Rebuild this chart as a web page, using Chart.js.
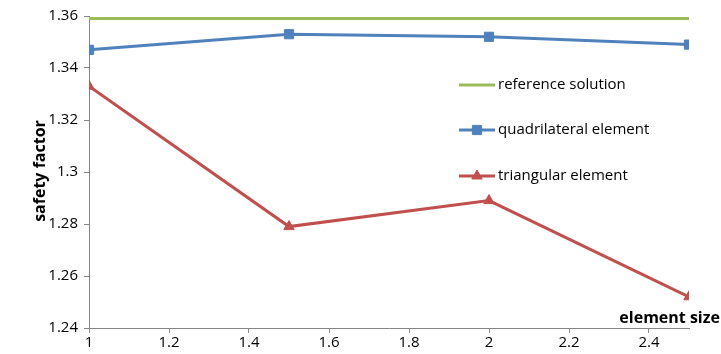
<!DOCTYPE html>
<html lang="en">
<head>
    <meta charset="UTF-8">
    <title>safety factor vs element size</title>
    <style>
        html, body { margin: 0; padding: 0; background: #ffffff; }
        canvas { display: block; }
    </style>
</head>
<body>
    <canvas id="myChart" width="721" height="354"></canvas>

    <script src="https://cdn.jsdelivr.net/npm/chart.js"></script>
    <script>
        // data
        const elementSize = [1, 1.5, 2, 2.5];
        const referenceSolution = [1.359, 1.359, 1.359, 1.359];
        const quadrilateral = [1.347, 1.353, 1.352, 1.349];
        const triangular = [1.333, 1.279, 1.289, 1.252];

        const xTicks = [1, 1.2, 1.4, 1.6, 1.8, 2, 2.2, 2.4];
        const yTicks = [1.24, 1.26, 1.28, 1.3, 1.32, 1.34, 1.36];

        const seriesNames = ['reference solution', 'quadrilateral element', 'triangular element'];
        const axisColor = '#868686';
        const font = '"Open Sans", "Liberation Sans", sans-serif';

        const toPoints = (vals) => vals.map((v, i) => ({ x: elementSize[i], y: v }));

        // legend + axis titles drawn on the canvas like the original
        const extras = {
            id: 'extras',
            afterDraw(chart) {
                const c = chart.ctx;
                c.save();
                const rows = [85, 130, 176];
                chart.data.datasets.forEach((ds, i) => {
                    const y = rows[i];
                    c.strokeStyle = ds.borderColor;
                    c.lineWidth = 3;
                    c.beginPath();
                    c.moveTo(459, y);
                    c.lineTo(495, y);
                    c.stroke();
                    if (ds.pointRadius > 0) {
                        c.fillStyle = ds.backgroundColor;
                        c.strokeStyle = ds.borderColor;
                        c.lineWidth = 1;
                        Chart.helpers.drawPoint(c, {
                            pointStyle: ds.pointStyle,
                            radius: ds.pointRadius,
                            borderWidth: 1
                        }, 477, y);
                    }
                    c.fillStyle = '#000000';
                    c.font = '15px ' + font;
                    c.textBaseline = 'middle';
                    c.textAlign = 'left';
                    c.fillText(ds.label, 498, y);
                });

                c.font = 'bold 16px ' + font;
                c.fillStyle = '#000000';
                c.textAlign = 'right';
                c.textBaseline = 'middle';
                c.fillText('element size', 720, 318);

                c.translate(40, 171);
                c.rotate(-Math.PI / 2);
                c.textAlign = 'center';
                c.fillText('safety factor', 0, 0);
                c.restore();
            }
        };

        const ctx = document.getElementById('myChart').getContext('2d');
        new Chart(ctx, {
            type: 'line',
            data: {
                datasets: [{
                    label: seriesNames[0],
                    data: toPoints(referenceSolution),
                    borderColor: '#9BBB59',
                    backgroundColor: '#9BBB59',
                    borderWidth: 3,
                    pointRadius: 0,
                    pointHoverRadius: 0
                }, {
                    label: seriesNames[1],
                    data: toPoints(quadrilateral),
                    borderColor: '#4F81BD',
                    backgroundColor: '#4F81BD',
                    borderWidth: 3,
                    pointStyle: 'rect',
                    pointRadius: 6.5,
                    pointBorderWidth: 1
                }, {
                    label: seriesNames[2],
                    data: toPoints(triangular),
                    borderColor: '#C0504D',
                    backgroundColor: '#C0504D',
                    borderWidth: 3,
                    pointStyle: 'triangle',
                    pointRadius: 6,
                    pointBorderWidth: 1
                }]
            },
            options: {
                responsive: false,
                animation: false,
                layout: { padding: { left: 0, right: 32, top: 16, bottom: 0 } },
                plugins: {
                    legend: { display: false },
                    tooltip: { enabled: false }
                },
                scales: {
                    x: {
                        type: 'linear',
                        min: 1,
                        max: 2.5,
                        afterBuildTicks: (s) => { s.ticks = xTicks.map(v => ({ value: v })); },
                        afterFit: (s) => { s.height = 26; },
                        border: { color: axisColor, width: 1 },
                        grid: { drawOnChartArea: false, drawTicks: true, tickLength: 5, color: axisColor },
                        ticks: {
                            color: '#000000',
                            padding: 1,
                            maxRotation: 0,
                            font: { family: font, size: 15 },
                            callback: (v) => String(v)
                        }
                    },
                    y: {
                        min: 1.24,
                        max: 1.36,
                        afterBuildTicks: (s) => { s.ticks = yTicks.map(v => ({ value: v })); },
                        afterFit: (s) => { s.width = 89; },
                        border: { color: axisColor, width: 1 },
                        grid: { drawOnChartArea: false, drawTicks: true, tickLength: 5, color: axisColor },
                        ticks: {
                            color: '#000000',
                            padding: 6,
                            font: { family: font, size: 15 },
                            callback: (v) => String(v)
                        }
                    }
                }
            },
            plugins: [extras]
        });
    </script>
</body>
</html>
